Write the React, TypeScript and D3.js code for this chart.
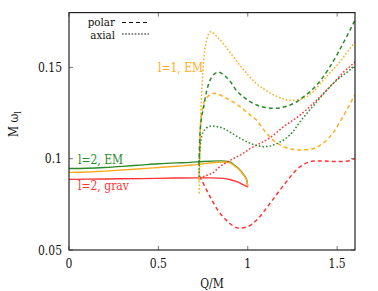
import * as d3 from "d3";

// tick values
const xTicks = [0, 0.5, 1, 1.5];
const xTickLabels = ["0", "0.5", "1", "1.5"];
const yTicks = [0.05, 0.1, 0.15];
const yTickLabels = ["0.05", "0.1", "0.15"];

// solid branches (Q/M, M omega)
const emL2Solid: [number, number][] = [
  [0, 0.0946], [0.1, 0.0948], [0.2, 0.0952], [0.3, 0.0958], [0.4, 0.0965], [0.5, 0.0972],
  [0.6, 0.0977], [0.677, 0.098], [0.75, 0.0985], [0.85, 0.0988], [0.9, 0.0982], [0.92, 0.0968],
  [0.95, 0.0945], [0.975, 0.0915], [0.994, 0.0885], [1.0, 0.0848],
];
const emL1Solid: [number, number][] = [
  [0, 0.0925], [0.1, 0.0927], [0.2, 0.0932], [0.3, 0.0938], [0.4, 0.0945], [0.5, 0.0952],
  [0.6, 0.0959], [0.677, 0.0964], [0.75, 0.0972], [0.8, 0.0978], [0.863, 0.0982], [0.9, 0.0978],
  [0.92, 0.0965], [0.95, 0.0942], [0.975, 0.0912], [0.994, 0.0882], [1.0, 0.0845],
];
const gravL2Solid: [number, number][] = [
  [0, 0.0887], [0.2, 0.0889], [0.4, 0.0891], [0.6, 0.0894], [0.7, 0.0895], [0.8, 0.0895],
  [0.863, 0.0892], [0.9, 0.0886], [0.938, 0.0874], [0.97, 0.086], [1.0, 0.0845],
];

// l=1 EM
const emL1Axial: [number, number][] = [
  [0.728, 0.081], [0.731, 0.1], [0.736, 0.12], [0.745, 0.14], [0.755, 0.155], [0.77, 0.165],
  [0.793, 0.1695], [0.83, 0.1665], [0.863, 0.163], [0.91, 0.157], [0.957, 0.151], [1.0, 0.146],
  [1.05, 0.141], [1.1, 0.1375], [1.143, 0.135], [1.19, 0.133], [1.237, 0.132], [1.28, 0.1322],
  [1.33, 0.134], [1.37, 0.137], [1.405, 0.141], [1.45, 0.146], [1.498, 0.151], [1.554, 0.158],
  [1.6, 0.164],
];
const emL1Polar: [number, number][] = [
  [0.728, 0.088], [0.731, 0.105], [0.737, 0.12], [0.75, 0.129], [0.77, 0.1335], [0.817, 0.1358],
  [0.863, 0.134], [0.91, 0.1315], [0.957, 0.1285], [1.013, 0.124], [1.05, 0.121], [1.1, 0.1145],
  [1.15, 0.1095], [1.2, 0.1066], [1.25, 0.1052], [1.293, 0.1048], [1.349, 0.1051], [1.4, 0.107],
  [1.442, 0.1102], [1.48, 0.1145], [1.517, 0.1203], [1.55, 0.126], [1.572, 0.13], [1.6, 0.135],
];

// l=2 EM
const emL2Polar: [number, number][] = [
  [0.727, 0.097], [0.731, 0.11], [0.738, 0.12], [0.751, 0.127], [0.77, 0.137], [0.8, 0.1449],
  [0.836, 0.1474], [0.87, 0.1455], [0.9, 0.1425], [0.94, 0.137], [0.975, 0.1339], [1.05, 0.1294],
  [1.1, 0.128], [1.162, 0.1276], [1.2, 0.1283], [1.237, 0.1294], [1.28, 0.1315], [1.311, 0.1339],
  [1.349, 0.1367], [1.386, 0.1404], [1.42, 0.1445], [1.46, 0.1504], [1.5, 0.157], [1.535, 0.1635],
  [1.57, 0.17], [1.6, 0.176],
];
const emL2Axial: [number, number][] = [
  [0.727, 0.09], [0.73, 0.1], [0.735, 0.108], [0.75, 0.1145], [0.775, 0.1172], [0.798, 0.1179],
  [0.83, 0.1175], [0.863, 0.1166], [0.91, 0.114], [0.957, 0.1112], [1.0, 0.109], [1.05, 0.1072],
  [1.087, 0.1066], [1.12, 0.1068], [1.16, 0.1082], [1.2, 0.1102], [1.25, 0.1145], [1.293, 0.1203],
  [1.34, 0.1258], [1.386, 0.1312], [1.43, 0.1362], [1.479, 0.1413], [1.53, 0.1455], [1.572, 0.1486],
  [1.6, 0.151],
];

// l=2 grav
const gravL2Polar: [number, number][] = [
  [0.73, 0.0905], [0.742, 0.0883], [0.765, 0.0838], [0.789, 0.0792], [0.83, 0.0722], [0.862, 0.0682],
  [0.9, 0.0645], [0.95, 0.062], [1.0, 0.0628], [1.05, 0.0664], [1.09, 0.071], [1.125, 0.0756],
  [1.17, 0.0815], [1.209, 0.0865], [1.25, 0.0915], [1.293, 0.0956], [1.33, 0.0977], [1.366, 0.0987],
  [1.42, 0.0988], [1.498, 0.0984], [1.56, 0.0988], [1.6, 0.1002],
];
const gravL2Axial: [number, number][] = [
  [0.73, 0.0895], [0.76, 0.0905], [0.808, 0.0925], [0.836, 0.095], [0.9, 0.099], [0.975, 0.103],
  [1.013, 0.1055], [1.06, 0.108], [1.125, 0.1115], [1.2, 0.1175], [1.293, 0.1239], [1.386, 0.1321],
  [1.479, 0.1413], [1.54, 0.1478], [1.572, 0.1505], [1.6, 0.153],
];

const GREEN = "#2a8a2a";
const ORANGE = "#ffad22";
const RED = "#ff3333";
const DASH = "4,3";
const DOT = "1.6,2";

const W = 378;
const H = 291;
const left = 69, right = 355, top = 12.6, bottom = 250;

export default function App() {
  const x = d3.scaleLinear().domain([0, 1.6]).range([left, right]);
  const y = d3.scaleLinear().domain([0.05, 0.18]).range([bottom, top]);
  const line = d3
    .line<[number, number]>()
    .x(d => x(d[0]))
    .y(d => y(d[1]))
    .curve(d3.curveMonotoneX);

  const curves = [
    { data: gravL2Polar, color: RED, dash: DASH },
    { data: gravL2Axial, color: RED, dash: DOT },
    { data: emL1Polar, color: ORANGE, dash: DASH },
    { data: emL1Axial, color: ORANGE, dash: DOT },
    { data: emL2Polar, color: GREEN, dash: DASH },
    { data: emL2Axial, color: GREEN, dash: DOT },
  ];

  return (
    <svg
      width={W}
      height={H}
      style={{
        position: "absolute",
        left: 0,
        top: 0,
        background: "#fff",
        fontFamily: '"DejaVu Serif Condensed", "DejaVu Serif", serif',
        fontStretch: "condensed",
        fontSize: 12,
      }}
    >
      <defs>
        <clipPath id="plot">
          <rect x={left} y={top} width={right - left} height={bottom - top} />
        </clipPath>
      </defs>

      {/* ticks */}
      {xTicks.map(t => (
        <g key={"x" + t}>
          <line x1={x(t)} x2={x(t)} y1={bottom} y2={bottom - 4} stroke="#777" />
          <line x1={x(t)} x2={x(t)} y1={top} y2={top + 4} stroke="#777" />
        </g>
      ))}
      {yTicks.map(t => (
        <g key={"y" + t}>
          <line x1={left} x2={left + 4} y1={y(t)} y2={y(t)} stroke="#777" />
          <line x1={right} x2={right - 4} y1={y(t)} y2={y(t)} stroke="#777" />
        </g>
      ))}

      <g clipPath="url(#plot)" fill="none">
        <path d={line(emL2Solid) ?? ""} stroke={GREEN} strokeWidth={1.4} />
        <path d={line(emL1Solid) ?? ""} stroke={ORANGE} strokeWidth={1.4} />
        <path d={line(gravL2Solid) ?? ""} stroke={RED} strokeWidth={1.4} />
        {curves.map((c, i) => (
          <path
            key={i}
            d={line(c.data) ?? ""}
            stroke={c.color}
            strokeWidth={1.5}
            strokeDasharray={c.dash}
          />
        ))}
      </g>

      {/* frame */}
      <rect
        x={left}
        y={top}
        width={right - left}
        height={bottom - top}
        fill="none"
        stroke="#222"
        strokeWidth={1.2}
      />

      {/* tick labels */}
      {xTicks.map((t, i) => (
        <text key={"xl" + t} x={x(t)} y={268} textAnchor="middle" fill="#111">
          {xTickLabels[i]}
        </text>
      ))}
      {yTicks.map((t, i) => (
        <text key={"yl" + t} x={62} y={y(t) + 4.5} textAnchor="end" fill="#111">
          {yTickLabels[i]}
        </text>
      ))}

      {/* axis titles */}
      <text x={212} y={288} textAnchor="middle" fill="#111">Q/M</text>
      <text transform="translate(17.5,124) rotate(-90)" textAnchor="middle" fill="#111">
        M ω<tspan fontSize={9} dy={3}>l</tspan>
      </text>

      {/* legend */}
      <text x={115} y={26} textAnchor="end" fill="#111" fontSize={11.5}>polar</text>
      <line x1={122} x2={149} y1={22.5} y2={22.5} stroke="#111" strokeWidth={1} strokeDasharray={DASH} />
      <text x={115} y={38.5} textAnchor="end" fill="#111" fontSize={11.5}>axial</text>
      <line x1={122} x2={149} y1={34} y2={34} stroke="#111" strokeWidth={1} strokeDasharray="1.6,1.6" />

      {/* annotations */}
      <text x={158} y={72} fill={ORANGE}>l=1, EM</text>
      <text x={78} y={163.5} fill={GREEN}>l=2, EM</text>
      <text x={78} y={190} fill={RED}>l=2, grav</text>
    </svg>
  );
}
